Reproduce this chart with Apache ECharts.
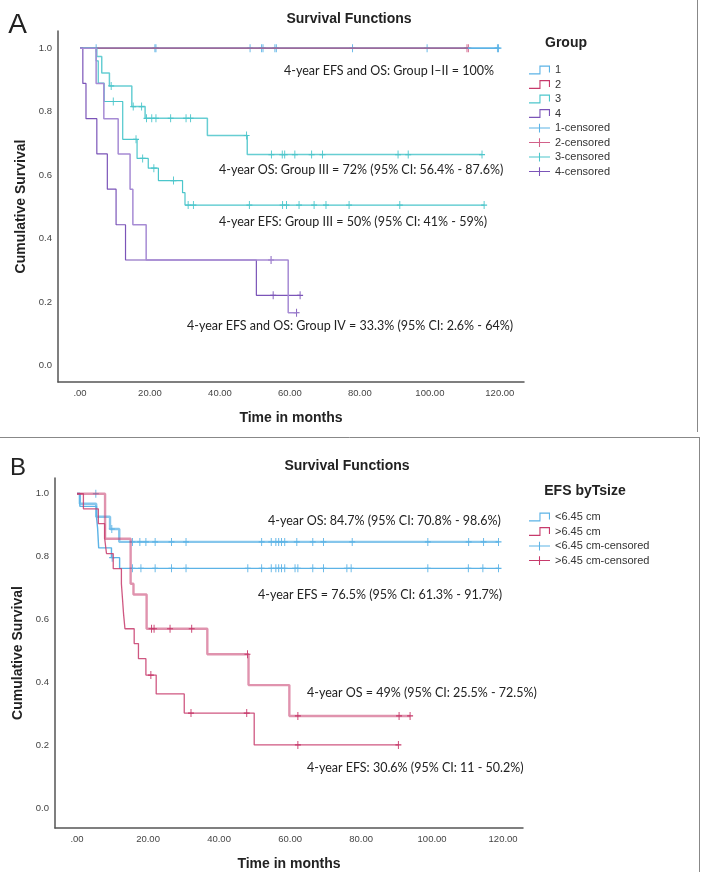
<!DOCTYPE html>
<html>
<head>
<meta charset="utf-8">
<title>Survival Functions</title>
<script src="https://cdn.jsdelivr.net/npm/echarts@6/dist/echarts.min.js"></script>
<style>
    html,body{
        margin:0;
        padding:0;
        width:701px;
        height:872px;
        background:#fff;
    }
    #chart{
        width:701px;
        height:872px;
    }
</style>
</head>
<body>
<div id="chart"></div>
<script>
/* ---------- data, panel A (by group) ---------- */
// group 1: no events
var g1T = [0, 119.6];
var g1S = [1, 1];
var g1CensT = [4.6, 21.4, 21.7, 48.6, 51.9, 52.3, 55.7, 56.1, 77.9, 99.2, 119.3, 119.6];
var g1CensS = [1, 1, 1, 1, 1, 1, 1, 1, 1, 1, 1, 1];
// group 2: no events
var g2T = [0, 110.9];
var g2S = [1, 1];
var g2CensT = [110.6, 111.0];
var g2CensS = [1, 1];
// group 3 EFS
var g3EfsT = [0, 4.6, 5.2, 6.9, 12.2, 16.3, 19.5, 22.4, 29.3, 30.0, 115.5];
var g3EfsS = [1, 0.96, 0.89, 0.832, 0.713, 0.653, 0.622, 0.583, 0.545, 0.506, 0.506];
var g3EfsCensT = [9.5, 16.0, 17.9, 21.1, 26.7, 30.9, 32.4, 48.4, 57.9, 59.0, 62.6, 66.9, 70.3, 76.9, 91.4, 115.5];
var g3EfsCensS = [0.832, 0.713, 0.653, 0.622, 0.583, 0.506, 0.506, 0.506, 0.506, 0.506, 0.506, 0.506, 0.506, 0.506, 0.506, 0.506];
// group 3 OS
var g3OsT = [0, 4.8, 6.2, 8.4, 14.8, 18.6, 36.4, 47.8, 114.9];
var g3OsS = [1, 0.974, 0.922, 0.881, 0.816, 0.779, 0.725, 0.665, 0.665];
var g3OsCensT = [8.9, 15.2, 17.6, 19.0, 20.5, 21.7, 25.9, 30.3, 31.6, 47.6, 54.7, 57.8, 58.5, 61.4, 66.2, 69.3, 90.9, 93.8, 114.9];
var g3OsCensS = [0.881, 0.816, 0.816, 0.779, 0.779, 0.779, 0.779, 0.779, 0.779, 0.725, 0.665, 0.665, 0.665, 0.665, 0.665, 0.665, 0.665, 0.665, 0.665];
// group 4 EFS
var g4EfsT = [0, 0.8, 1.7, 4.8, 7.8, 10.3, 13.0, 50.4, 62.9];
var g4EfsS = [1, 0.889, 0.778, 0.667, 0.556, 0.444, 0.333, 0.222, 0.222];
var g4EfsCensT = [55.2, 62.9];
var g4EfsCensS = [0.222, 0.222];
// group 4 OS
var g4OsT = [0, 4.6, 6.8, 10.9, 14.3, 15.1, 18.9, 59.5, 61.9];
var g4OsS = [1, 0.889, 0.778, 0.667, 0.556, 0.444, 0.333, 0.167, 0.167];
var g4OsCensT = [54.6, 61.9];
var g4OsCensS = [0.333, 0.167];

/* ---------- data, panel B (by tumour size) ---------- */
var smOsT = [0, 0.8, 5.4, 9.3, 11.9, 118.7];
var smOsS = [1, 0.968, 0.927, 0.888, 0.847, 0.847];
var smOsCensT = [5.3, 9.8, 15.6, 17.7, 19.4, 22.0, 26.6, 30.7, 52.0, 54.7, 56.0, 56.8, 57.6, 58.5, 61.9, 66.4, 69.4, 77.5, 98.8, 110.3, 114.5, 118.7];
var smOsCensS = [1, 0.888, 0.847, 0.847, 0.847, 0.847, 0.847, 0.847, 0.847, 0.847, 0.847, 0.847, 0.847, 0.847, 0.847, 0.847, 0.847, 0.847, 0.847, 0.847, 0.847, 0.847];
var smEfsT = [0, 0.8, 5.5, 5.8, 6.1, 9.7, 12.0, 118.7];
var smEfsS = [1, 0.96, 0.925, 0.89, 0.828, 0.797, 0.763, 0.763];
var smEfsCensT = [9.9, 15.6, 18.0, 22.0, 26.6, 30.7, 48.1, 52.0, 54.7, 56.0, 56.8, 57.6, 58.5, 61.4, 62.2, 66.4, 69.4, 76.0, 77.2, 98.8, 110.2, 114.3, 118.7];
var smEfsCensS = [0.797, 0.763, 0.763, 0.763, 0.763, 0.763, 0.763, 0.763, 0.763, 0.763, 0.763, 0.763, 0.763, 0.763, 0.763, 0.763, 0.763, 0.763, 0.763, 0.763, 0.763, 0.763, 0.763];
var lgOsT = [0, 7.9, 15.1, 15.9, 19.6, 36.7, 48.3, 59.8, 93.8];
var lgOsS = [1, 0.857, 0.714, 0.68, 0.571, 0.49, 0.392, 0.294, 0.294];
var lgOsCensT = [21.0, 21.7, 26.2, 32.3, 48.0, 62.2, 90.7, 93.8];
var lgOsCensS = [0.571, 0.571, 0.571, 0.571, 0.49, 0.294, 0.294, 0.294];
var lgEfsT = [0, 1.8, 6.0, 7.8, 8.3, 10.2, 12.5, 12.8, 13.1, 13.5, 16.1, 17.3, 19.4, 22.3, 30.2, 49.9, 90.5];
var lgEfsS = [1, 0.952, 0.905, 0.857, 0.81, 0.762, 0.714, 0.667, 0.619, 0.571, 0.524, 0.476, 0.424, 0.364, 0.303, 0.202, 0.202];
var lgEfsCensT = [20.8, 32.1, 47.8, 62.2, 90.5];
var lgEfsCensS = [0.424, 0.303, 0.303, 0.202, 0.202];

// axis labels
var xTicks = [0, 20, 40, 60, 80, 100, 120];
var yTicks = [0, 0.2, 0.4, 0.6, 0.8, 1.0];

// text notes
var notesA = [
    '4-year EFS and OS: Group I\u2013II = 100%',
    '4-year OS: Group III = 72% (95% CI: 56.4% - 87.6%)',
    '4-year EFS: Group III = 50% (95% CI: 41% - 59%)',
    '4-year EFS and OS: Group IV = 33.3% (95% CI: 2.6% - 64%)'
];
var notesB = [
    '4-year OS: 84.7% (95% CI: 70.8% - 98.6%)',
    '4-year EFS = 76.5% (95% CI: 61.3% - 91.7%)',
    '4-year OS = 49% (95% CI: 25.5% - 72.5%)',
    '4-year EFS: 30.6% (95% CI: 11 - 50.2%)'
];

/* ---------- styles ---------- */
var FONT = 'Liberation Sans, Arial, sans-serif';
var NOTE = 'Lato, sans-serif';
var BLUE = '#5cb3e6', RED = '#c73a6b', TEAL = '#4cc6cb', PURPLE = '#7b54b8', LILAC = '#a68bd4';
var STEP = 'path://M0,8.8L11.4,8.8L11.4,0.4L23,0.4L23,8L21.8,8L21.8,1.6L12.6,1.6L12.6,10L0,10Z';
var CROSS = 'path://M0,4.4H11.4V0H12.6V4.4H24V5.6H12.6V10H11.4V5.6H0Z';
var PLUS = 'path://M4.25,0H5.75V4.25H10V5.75H5.75V10H4.25V5.75H0V4.25H4.25Z';

function pairs(t, s) {
    return t.map(function (x, i) { return [x, s[i]]; });
}
function stepLine(name, idx, t, s, color, width, opacity) {
    return {
        name: name, type: 'line', step: 'end',
        xAxisIndex: idx, yAxisIndex: idx,
        showSymbol: false, silent: true,
        itemStyle: {color: color},
        lineStyle: {color: color, width: width, opacity: opacity},
        data: pairs(t, s)
    };
}
function censor(name, idx, t, s, color, opacity) {
    return {
        name: name, type: 'scatter',
        xAxisIndex: idx, yAxisIndex: idx, silent: true,
        symbol: PLUS, symbolSize: [6, 8],
        itemStyle: {color: color, opacity: opacity},
        data: pairs(t, s)
    };
}
function xAxisOf(idx, min, max) {
    return {
        type: 'value', gridIndex: idx, min: min, max: max,
        name: 'Time in months', nameLocation: 'middle', nameGap: 29,
        nameTextStyle: {fontFamily: FONT, fontWeight: 'bold', fontSize: 14, color: '#222'},
        axisLine: {show: true, onZero: false, lineStyle: {color: '#555', width: 1.5}},
        axisTick: {show: false},
        splitLine: {show: false},
        axisLabel: {
            customValues: xTicks, margin: 6,
            fontFamily: FONT, fontSize: 9.5, color: '#444',
            formatter: function (v) { return v === 0 ? '.00' : v.toFixed(2); }
        }
    };
}
function yAxisOf(idx, min, max, shift) {
    return {
        type: 'value', gridIndex: idx, min: min, max: max,
        name: 'Cumulative Survival', nameLocation: 'middle', nameGap: 30,
        nameTextStyle: {fontFamily: FONT, fontWeight: 'bold', fontSize: 14, color: '#222'},
        axisLine: {show: true, onZero: false, lineStyle: {color: '#555', width: 1.5}},
        axisTick: {show: false},
        splitLine: {show: false},
        axisLabel: {
            customValues: yTicks, margin: 6,
            fontFamily: FONT, fontSize: 9.5, color: '#444',
            padding: [shift, 0, 0, 0],
            formatter: function (v) { return v.toFixed(1); }
        }
    };
}
function txt(x, y, text, font, align) {
    return {
        type: 'text', x: x, y: y, silent: true,
        style: {text: text, font: font, fill: '#222', align: align || 'left', verticalAlign: 'middle'}
    };
}
function rule(x1, y1, x2, y2) {
    return {type: 'line', silent: true, shape: {x1: x1, y1: y1, x2: x2, y2: y2}, style: {stroke: '#888', lineWidth: 1}};
}
function legendOf(top, names) {
    return {
        orient: 'vertical', left: 524, top: top,
        itemWidth: 21, itemHeight: 10, itemGap: 2.5,
        selectedMode: false,
        itemStyle: {borderWidth: 0},
        textStyle: {fontFamily: FONT, fontSize: 11, color: '#333', lineHeight: 12},
        data: names.map(function (n) {
            return {name: n, icon: n.indexOf('censored') > 0 ? CROSS : STEP};
        })
    };
}

var myChart = echarts.init(document.getElementById('chart'), null, {renderer: 'canvas'});

var option = {
    animation: false,
    backgroundColor: '#fff',
    grid: [
        {left: 58, top: 31, width: 466, height: 351},
        {left: 55, top: 478, width: 468, height: 352}
    ],
    xAxis: [xAxisOf(0, -6.3, 126.9), xAxisOf(1, -6.2, 125.6)],
    yAxis: [yAxisOf(0, -0.051, 1.054, 0), yAxisOf(1, -0.062, 1.05, 5)],
    legend: [
        legendOf(59, ['1', '2', '3', '4', '1-censored', '2-censored', '3-censored', '4-censored']),
        legendOf(506, ['<6.45 cm', '>6.45 cm', '<6.45 cm-censored', '>6.45 cm-censored'])
    ],
    series: [
        // panel A
        stepLine('1', 0, g1T, g1S, BLUE, 1.6, 1),
        stepLine('2', 0, g2T, g2S, RED, 1.6, 0.6),
        stepLine('3', 0, g3EfsT, g3EfsS, TEAL, 1.2, 1),
        stepLine('3', 0, g3OsT, g3OsS, TEAL, 1.5, 0.85),
        stepLine('4', 0, g4EfsT, g4EfsS, PURPLE, 1.2, 1),
        stepLine('4', 0, g4OsT, g4OsS, LILAC, 1.5, 1),
        censor('1-censored', 0, g1CensT, g1CensS, BLUE, 1),
        censor('2-censored', 0, g2CensT, g2CensS, RED, 0.8),
        censor('3-censored', 0, g3EfsCensT, g3EfsCensS, TEAL, 1),
        censor('3-censored', 0, g3OsCensT, g3OsCensS, TEAL, 1),
        censor('4-censored', 0, g4EfsCensT, g4EfsCensS, PURPLE, 1),
        censor('4-censored', 0, g4OsCensT, g4OsCensS, PURPLE, 1),
        // panel B
        stepLine('<6.45 cm', 1, smEfsT, smEfsS, BLUE, 1.4, 1),
        stepLine('<6.45 cm', 1, smOsT, smOsS, BLUE, 2.4, 0.75),
        stepLine('>6.45 cm', 1, lgEfsT, lgEfsS, RED, 1.3, 0.85),
        stepLine('>6.45 cm', 1, lgOsT, lgOsS, RED, 2.4, 0.55),
        censor('<6.45 cm-censored', 1, smEfsCensT, smEfsCensS, BLUE, 1),
        censor('<6.45 cm-censored', 1, smOsCensT, smOsCensS, BLUE, 1),
        censor('>6.45 cm-censored', 1, lgEfsCensT, lgEfsCensS, RED, 1),
        censor('>6.45 cm-censored', 1, lgOsCensT, lgOsCensS, RED, 1)
    ],
    graphic: [
        rule(697.5, 0, 697.5, 432),
        rule(0, 437.5, 699.5, 437.5),
        rule(699.5, 437, 699.5, 872),
        txt(17.5, 25, 'A', '28px ' + FONT, 'center'),
        txt(18, 468, 'B', '24px ' + FONT, 'center'),
        txt(349, 19, 'Survival Functions', 'bold 14px ' + FONT, 'center'),
        txt(347, 466, 'Survival Functions', 'bold 14px ' + FONT, 'center'),
        txt(566, 43, 'Group', 'bold 14px ' + FONT, 'center'),
        txt(585, 491, 'EFS byTsize', 'bold 14px ' + FONT, 'center'),
        txt(284, 71, notesA[0], '12.5px ' + NOTE),
        txt(219, 170, notesA[1], '12.5px ' + NOTE),
        txt(219, 222, notesA[2], '12.5px ' + NOTE),
        txt(187, 326, notesA[3], '12.5px ' + NOTE),
        txt(268, 521, notesB[0], '12.5px ' + NOTE),
        txt(258, 595, notesB[1], '12.5px ' + NOTE),
        txt(307, 693, notesB[2], '12.5px ' + NOTE),
        txt(307, 768, notesB[3], '12.5px ' + NOTE)
    ]
};
myChart.setOption(option);
</script>
</body>
</html>
